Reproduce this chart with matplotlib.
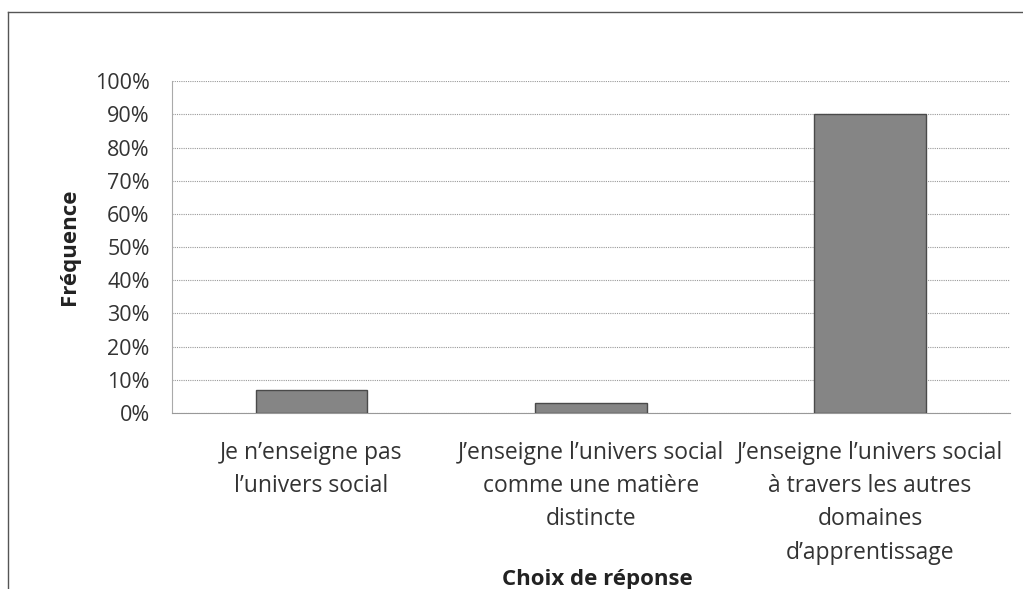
import matplotlib.pyplot as plt
from matplotlib.lines import Line2D
from matplotlib.ticker import PercentFormatter

categories = [
    "Je n\u2019enseigne pas\nl\u2019univers social",
    "J\u2019enseigne l\u2019univers social\ncomme une mati\u00e8re\ndistincte",
    "J\u2019enseigne l\u2019univers social\n\u00e0 travers les autres\ndomaines\nd\u2019apprentissage",
]
values = [7, 3, 90]
yticks = list(range(0, 101, 10))

plt.rcParams['font.family'] = ['Open Sans', 'DejaVu Sans']

fig = plt.figure(figsize=(10.23, 5.89), dpi=100)
ax = fig.add_axes([0.168, 0.299, 0.819, 0.563])

x = range(len(categories))
ax.bar(x, values, width=0.4, color='#858585', edgecolor='#4a4a4a', linewidth=1, zorder=3)

ax.set_xlim(-0.5, 2.5)
ax.set_ylim(0, 100)
ax.set_yticks(yticks)
ax.yaxis.set_major_formatter(PercentFormatter(decimals=0))
ax.set_xticks(list(x))
ax.set_xticklabels(categories, fontsize=16.5, color='#333333', linespacing=1.52)
ax.tick_params(axis='y', labelsize=15.5, labelcolor='#333333', length=0, pad=16)
ax.tick_params(axis='x', length=0, pad=20)

ax.grid(axis='y', color='#999999', linestyle=(0, (1, 1)), linewidth=0.8, zorder=0)
for s in ['top', 'right']:
    ax.spines[s].set_visible(False)
ax.spines['left'].set_color('#aaaaaa')
ax.spines['left'].set_linewidth(0.8)
ax.spines['bottom'].set_color('#999999')
ax.spines['bottom'].set_linestyle((0, (1, 1)))
ax.spines['bottom'].set_linewidth(0.8)

ax.set_ylabel('Fr\u00e9quence', fontsize=16, fontweight='bold', color='#222222')
ax.yaxis.set_label_coords(-0.11, 0.5)
fig.text(0.584, 0.016, 'Choix de r\u00e9ponse', fontsize=16, fontweight='bold',
         color='#222222', ha='center', va='center')

# outer frame (left and top edges visible)
fig.add_artist(Line2D([0.008, 0.008], [0.0, 0.98], transform=fig.transFigure,
                      color='#555555', linewidth=1))
fig.add_artist(Line2D([0.008, 1.0], [0.98, 0.98], transform=fig.transFigure,
                      color='#555555', linewidth=1))

fig.savefig('out.png', dpi=100)
